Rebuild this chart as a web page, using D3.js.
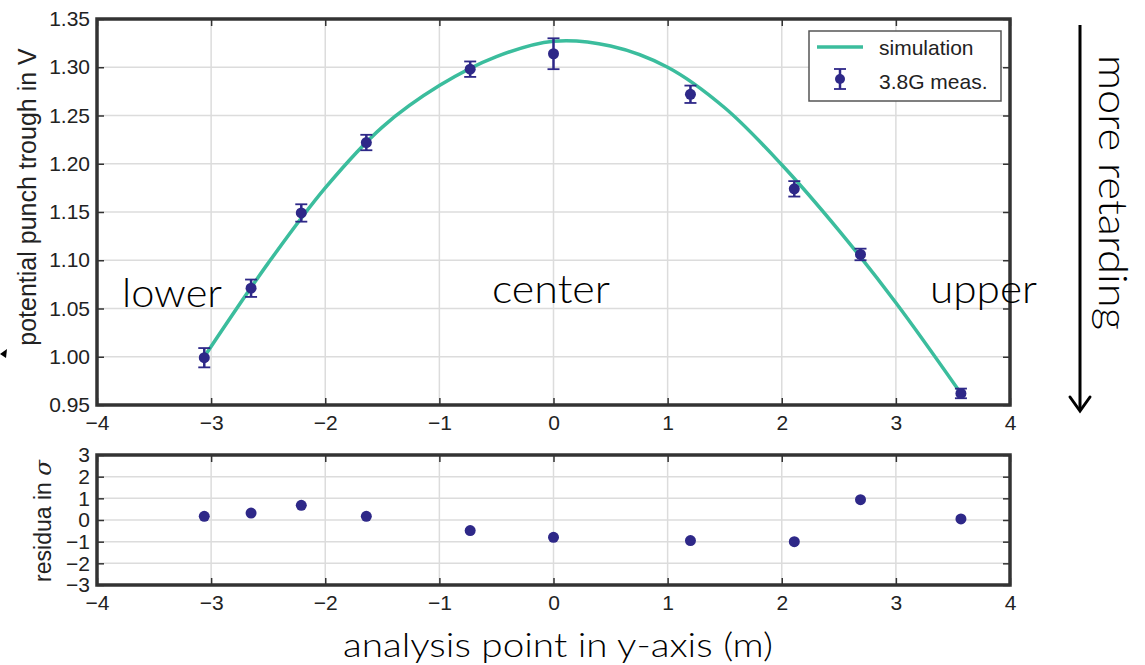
<!DOCTYPE html>
<html>
<head>
<meta charset="utf-8">
<script src="https://cdn.jsdelivr.net/npm/d3@7"></script>
<style>
  html, body { margin: 0; padding: 0; background: #fff; }
  svg { display: block; }
  .tick text { font-family: "Liberation Sans", Arial, sans-serif; font-size: 21px; fill: #222; }
  .geo { font-family: "Lato", "Noto Sans", sans-serif; font-weight: 300; fill: #000; }
</style>
</head>
<body>
<svg id="chart" width="1145" height="665"></svg>
<script>
// Measured punch-through potential at each analysis point
const pointX = [-3.06, -2.65, -2.21, -1.64, -0.73, 0.0, 1.20, 2.11, 2.69, 3.57];
const measured = [0.999, 1.071, 1.149, 1.222, 1.298, 1.314, 1.272, 1.174, 1.106, 0.962];
const measErr = [0.010, 0.009, 0.009, 0.008, 0.008, 0.016, 0.009, 0.008, 0.006, 0.005];
// Residuals of measurement vs simulation, in units of sigma
const residuals = [0.17, 0.32, 0.68, 0.17, -0.49, -0.80, -0.95, -1.00, 0.94, 0.05];
// Simulated potential along the y-axis
const simX = [-3.06, -2.5, -2.0, -1.5, -1.0, -0.5, 0.0, 0.5, 1.0, 1.5, 2.0, 2.5, 3.0, 3.57];
const simY = [1.000, 1.097, 1.175, 1.238, 1.281, 1.311, 1.327, 1.322, 1.300, 1.258, 1.199, 1.131, 1.056, 0.962];
// Axis ticks
const xTicks = [-4, -3, -2, -1, 0, 1, 2, 3, 4];
const yTicksTop = [0.95, 1.00, 1.05, 1.10, 1.15, 1.20, 1.25, 1.30, 1.35];
const yTicksRes = [-3, -2, -1, 0, 1, 2, 3];

const simColor = "#3bbd9d";
const measColor = "#2e2888";
const frameColor = "#333";
const gridColor = "#dcdcdc";
const minus = s => String(s).replace("-", "\u2212");

const svg = d3.select("#chart");

function panel(top, height, yDomain, yTicks, yFmt) {
  const left = 97, width = 913;
  const x = d3.scaleLinear().domain([-4, 4]).range([left, left + width]);
  const y = d3.scaleLinear().domain(yDomain).range([top + height, top]);
  const g = svg.append("g");
  // grid
  g.append("g").selectAll("line").data(xTicks.slice(1, -1)).join("line")
    .attr("x1", d => x(d)).attr("x2", d => x(d)).attr("y1", top).attr("y2", top + height)
    .attr("stroke", gridColor).attr("stroke-width", 1.5);
  g.append("g").selectAll("line").data(yTicks.slice(1, -1)).join("line")
    .attr("x1", left).attr("x2", left + width).attr("y1", d => y(d)).attr("y2", d => y(d))
    .attr("stroke", gridColor).attr("stroke-width", 1.5);
  // axes with inward ticks
  const axB = g.append("g").attr("transform", `translate(0,${top + height})`)
    .call(d3.axisBottom(x).tickValues(xTicks).tickSize(-7).tickPadding(10).tickFormat(d => minus(d)));
  const axT = g.append("g").attr("transform", `translate(0,${top})`)
    .call(d3.axisTop(x).tickValues(xTicks).tickSize(-7).tickFormat(""));
  const axL = g.append("g").attr("transform", `translate(${left},0)`)
    .call(d3.axisLeft(y).tickValues(yTicks).tickSize(-7).tickPadding(7).tickFormat(yFmt));
  const axR = g.append("g").attr("transform", `translate(${left + width},0)`)
    .call(d3.axisRight(y).tickValues(yTicks).tickSize(-7).tickFormat(""));
  [axB, axT, axL, axR].forEach(a => {
    a.select(".domain").remove();
    a.selectAll(".tick line").attr("stroke", frameColor).attr("stroke-width", 1.5);
  });
  return { x, y, g, left, width, top, height };
}

// ---- upper panel: potential ----
const P = panel(19, 386, [0.95, 1.35], yTicksTop, d => d3.format(".2f")(d));

P.g.append("path")
  .datum(simX.map((d, i) => [d, simY[i]]))
  .attr("d", d3.line().x(d => P.x(d[0])).y(d => P.y(d[1])).curve(d3.curveCatmullRom))
  .attr("fill", "none").attr("stroke", simColor).attr("stroke-width", 3.5);

const meas = P.g.append("g").selectAll("g").data(pointX.map((d, i) => i)).join("g");
meas.append("line")
  .attr("x1", i => P.x(pointX[i])).attr("x2", i => P.x(pointX[i]))
  .attr("y1", i => P.y(measured[i] - measErr[i])).attr("y2", i => P.y(measured[i] + measErr[i]))
  .attr("stroke", measColor).attr("stroke-width", 2.5);
[-1, 1].forEach(s => {
  meas.append("line")
    .attr("x1", i => P.x(pointX[i]) - 6).attr("x2", i => P.x(pointX[i]) + 6)
    .attr("y1", i => P.y(measured[i] + s * measErr[i])).attr("y2", i => P.y(measured[i] + s * measErr[i]))
    .attr("stroke", measColor).attr("stroke-width", 1.8);
});
meas.append("circle")
  .attr("cx", i => P.x(pointX[i])).attr("cy", i => P.y(measured[i])).attr("r", 5.5)
  .attr("fill", measColor);

P.g.append("rect").attr("x", P.left).attr("y", P.top).attr("width", P.width).attr("height", P.height)
  .attr("fill", "none").attr("stroke", frameColor).attr("stroke-width", 3.5);

// legend
const lg = P.g.append("g");
lg.append("rect").attr("x", 809).attr("y", 31).attr("width", 192).attr("height", 70)
  .attr("fill", "#fff").attr("stroke", "#555").attr("stroke-width", 1.5);
lg.append("line").attr("x1", 817).attr("x2", 863).attr("y1", 47).attr("y2", 47)
  .attr("stroke", simColor).attr("stroke-width", 3.5);
lg.append("line").attr("x1", 840).attr("x2", 840).attr("y1", 69).attr("y2", 89)
  .attr("stroke", measColor).attr("stroke-width", 2.5);
[69, 89].forEach(yy => lg.append("line").attr("x1", 834).attr("x2", 846).attr("y1", yy).attr("y2", yy)
  .attr("stroke", measColor).attr("stroke-width", 1.8));
lg.append("circle").attr("cx", 840).attr("cy", 79).attr("r", 5).attr("fill", measColor);
lg.selectAll("text").data(["simulation", "3.8G meas."]).join("text")
  .attr("x", 879).attr("y", (d, i) => 55 + i * 34)
  .attr("font-family", "Liberation Sans, Arial, sans-serif").attr("font-size", 21).attr("fill", "#222")
  .text(d => d);

svg.append("text").attr("transform", "translate(36,197) rotate(-90)")
  .attr("text-anchor", "middle").attr("font-family", "Liberation Sans, Arial, sans-serif")
  .attr("font-size", 25).attr("fill", "#222").text("potential punch trough in V");

// region annotations
svg.append("text").attr("class", "geo").attr("x", 122).attr("y", 307).attr("font-size", 40)
  .attr("textLength", 100).attr("lengthAdjust", "spacingAndGlyphs").text("lower");
svg.append("text").attr("class", "geo").attr("x", 492).attr("y", 303).attr("font-size", 40)
  .attr("textLength", 118).attr("lengthAdjust", "spacingAndGlyphs").text("center");
svg.append("text").attr("class", "geo").attr("x", 930).attr("y", 303).attr("font-size", 40)
  .attr("textLength", 107).attr("lengthAdjust", "spacingAndGlyphs").text("upper");

// ---- lower panel: residuals ----
const R = panel(455, 130, [-3, 3], yTicksRes, d => minus(d));
R.g.append("g").selectAll("circle").data(pointX.map((d, i) => i)).join("circle")
  .attr("cx", i => R.x(pointX[i])).attr("cy", i => R.y(residuals[i])).attr("r", 5.5)
  .attr("fill", measColor);
R.g.append("rect").attr("x", R.left).attr("y", R.top).attr("width", R.width).attr("height", R.height)
  .attr("fill", "none").attr("stroke", frameColor).attr("stroke-width", 3.5);

const rl = svg.append("text").attr("transform", "translate(51,521) rotate(-90)")
  .attr("text-anchor", "middle").attr("font-family", "Liberation Sans, Arial, sans-serif")
  .attr("font-size", 23).attr("fill", "#222");
rl.append("tspan").text("residua in ");
rl.append("tspan").attr("font-style", "italic").attr("font-family", "DejaVu Serif, serif").text("\u03c3");

svg.append("text").attr("class", "geo").attr("x", 343).attr("y", 657)
  .attr("font-size", 34).attr("textLength", 430).attr("lengthAdjust", "spacingAndGlyphs")
  .text("analysis point in y-axis (m)");

// "more retarding" arrow
svg.append("line").attr("x1", 1080).attr("x2", 1080).attr("y1", 25).attr("y2", 410)
  .attr("stroke", "#000").attr("stroke-width", 3);
svg.append("path").attr("d", "M1070,397 L1080,411 L1090,397")
  .attr("fill", "none").attr("stroke", "#000").attr("stroke-width", 3).attr("stroke-linecap", "round");
svg.append("text").attr("class", "geo").attr("transform", "translate(1099,55) rotate(90)")
  .attr("font-size", 40).attr("textLength", 275).attr("lengthAdjust", "spacingAndGlyphs")
  .text("more retarding");

// small arrowhead at left margin
svg.append("path").attr("d", "M0,354 L7,349 L6,358 Z").attr("fill", "#000");
</script>
</body>
</html>
